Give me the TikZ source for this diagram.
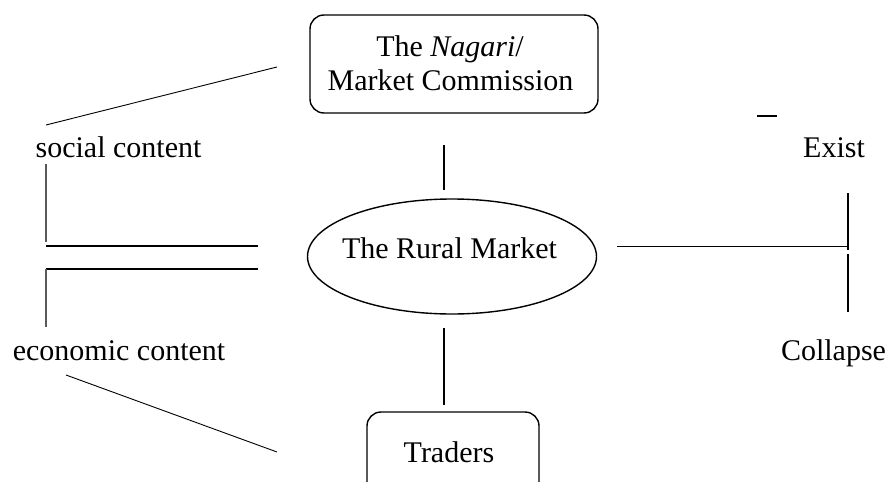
\documentclass[tikz,border=0pt]{standalone}
\usepackage{fontspec}
\setmainfont{Liberation Serif}
\usetikzlibrary{shapes.geometric}
\begin{document}
\begin{tikzpicture}[x=1pt,y=-1pt,
  lbl/.style={font=\fontsize{30}{35}\selectfont, inner sep=0pt, anchor=base},
  rbox/.style={draw, line width=1.4pt, rounded corners=14pt, inner sep=0pt},
  ell/.style={draw, ellipse, line width=1.4pt, inner sep=0pt},
  thin/.style={line width=0.9pt},
  thick/.style={line width=1.4pt}]
\useasboundingbox (0,0) rectangle (887,482);
\clip (0,0) rectangle (887,482);
% boxes
\node[rbox, minimum width=288pt, minimum height=98pt] (nag) at (454,64) {};
\node[lbl] (nagt1) at (450,56) {The \textit{Nagari}/};
\node[lbl] (nagt2) at (450.5,90) {Market Commission};
\node[ell, minimum width=289pt, minimum height=115pt] (mk) at (452,256.5) {};
\node[lbl] (mkt) at (449.5,258) {The Rural Market};
\node[rbox, minimum width=172pt, minimum height=86pt] (tr) at (453,455) {};
\node[lbl] (trt) at (449,462) {Traders};
% side labels
\node[lbl] (soc) at (118.5,157) {social content};
\node[lbl] (eco) at (119,360) {economic content};
\node[lbl] (ex) at (834,157) {Exist};
\node[lbl] (col) at (833.5,360) {Collapse};
% coordinates
\coordinate (a1) at (46,125); \coordinate (a2) at (277,67);
\coordinate (b1) at (46,164); \coordinate (b2) at (46,242);
\coordinate (c1) at (46,246); \coordinate (c2) at (258,246);
\coordinate (d1) at (46,269); \coordinate (d2) at (258,269);
\coordinate (e2) at (46,327);
\coordinate (f1) at (66,375); \coordinate (f2) at (277,452);
\coordinate (g1) at (444,145); \coordinate (g2) at (444,190);
\coordinate (h1) at (444,328); \coordinate (h2) at (444,405);
\coordinate (r1) at (617,246); \coordinate (r2) at (848,246);
\coordinate (v1) at (848,193); \coordinate (v2) at (848,250);
\coordinate (w1) at (848,254); \coordinate (w2) at (848,312);
\coordinate (k1) at (757,116); \coordinate (k2) at (777,116);
% lines
\draw[thin] (a1) -- (a2);
\draw[thick, black!65] (b1) -- (b2);
\draw[thick] (c1) -- (c2);
\draw[thick] (d2) -- (d1);
\draw[thick, black!65] (d1) -- (e2);
\draw[thin] (f1) -- (f2);
\draw[thick] (g1) -- (g2);
\draw[thick] (h1) -- (h2);
\draw[thin] (r1) -- (r2);
\draw[thick] (v1) -- (v2);
\draw[thick] (w1) -- (w2);
\draw[thick] (k1) -- (k2);
\end{tikzpicture}
\end{document}
